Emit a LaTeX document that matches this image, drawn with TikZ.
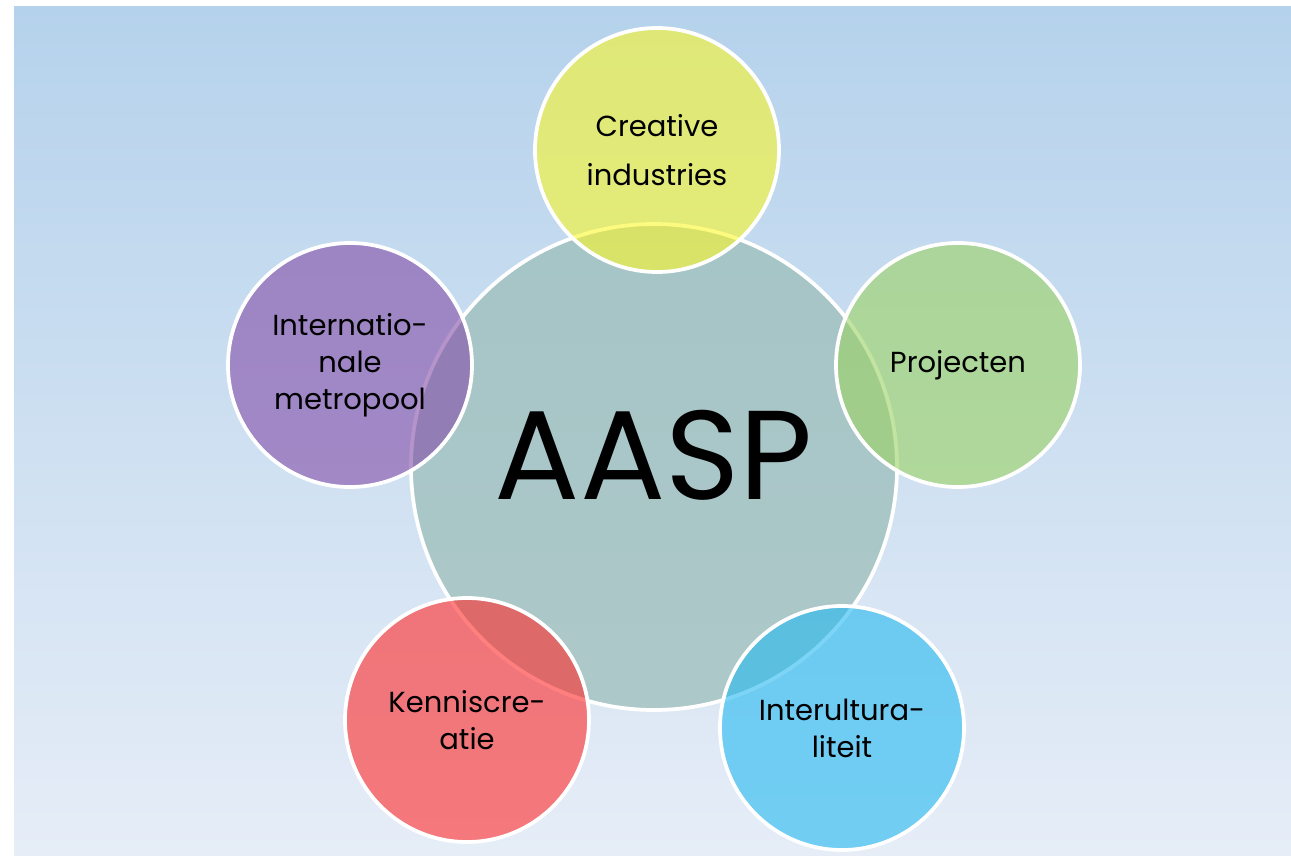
\documentclass[tikz,border=0pt]{standalone}
\usepackage{fontspec}
\setmainfont{Poppins}
\usepackage{tikz}

\definecolor{bgtop}{RGB}{181,210,236}
\definecolor{bgbottom}{RGB}{230,237,247}
\definecolor{coreteal}{RGB}{157,190,186}
\definecolor{ringyellow}{RGB}{250,247,42}
\definecolor{ringgreen}{RGB}{155,210,98}
\definecolor{ringpurple}{RGB}{132,77,168}
\definecolor{ringred}{RGB}{255,43,42}
\definecolor{ringblue}{RGB}{37,185,240}

\begin{document}
\begin{tikzpicture}[
    bubble/.style={circle, draw=white, line width=0.075cm, fill opacity=0.6, text opacity=1,
      minimum size=4.88cm, inner sep=0pt, align=center, font=\fontsize{16.5}{21}\selectfont},
    core/.style={circle, draw=white, line width=0.075cm, fill=coreteal, fill opacity=0.75,
      minimum size=9.72cm, inner sep=0pt}]
  \useasboundingbox (0cm,0cm) rectangle (25.82cm,-17.12cm);
  \shade[top color=bgtop, bottom color=bgbottom] (0.28cm,-0.14cm) rectangle (25.82cm,-17.12cm);
  \node[core] (aasp) at (13.08cm,-9.34cm) {};
  \node[font=\fontsize{72}{80}\selectfont] (title) at ([yshift=0.24cm]aasp.center) {AASP};
  \node[bubble, fill=ringyellow, font=\fontsize{16.5}{28}\selectfont] (creative) at (13.14cm,-3cm) {Creative\\industries};
  \node[bubble, fill=ringgreen] (projecten) at (19.16cm,-7.3cm) {Projecten};
  \node[bubble, fill=ringpurple] (metropool) at (7cm,-7.3cm) {Internatio-\\nale\\metropool};
  \node[bubble, fill=ringred] (kennis) at (9.34cm,-14.4cm) {Kenniscre-\\atie};
  \node[bubble, fill=ringblue] (intercultureel) at (16.84cm,-14.56cm) {Interultura-\\liteit};
\end{tikzpicture}
\end{document}
